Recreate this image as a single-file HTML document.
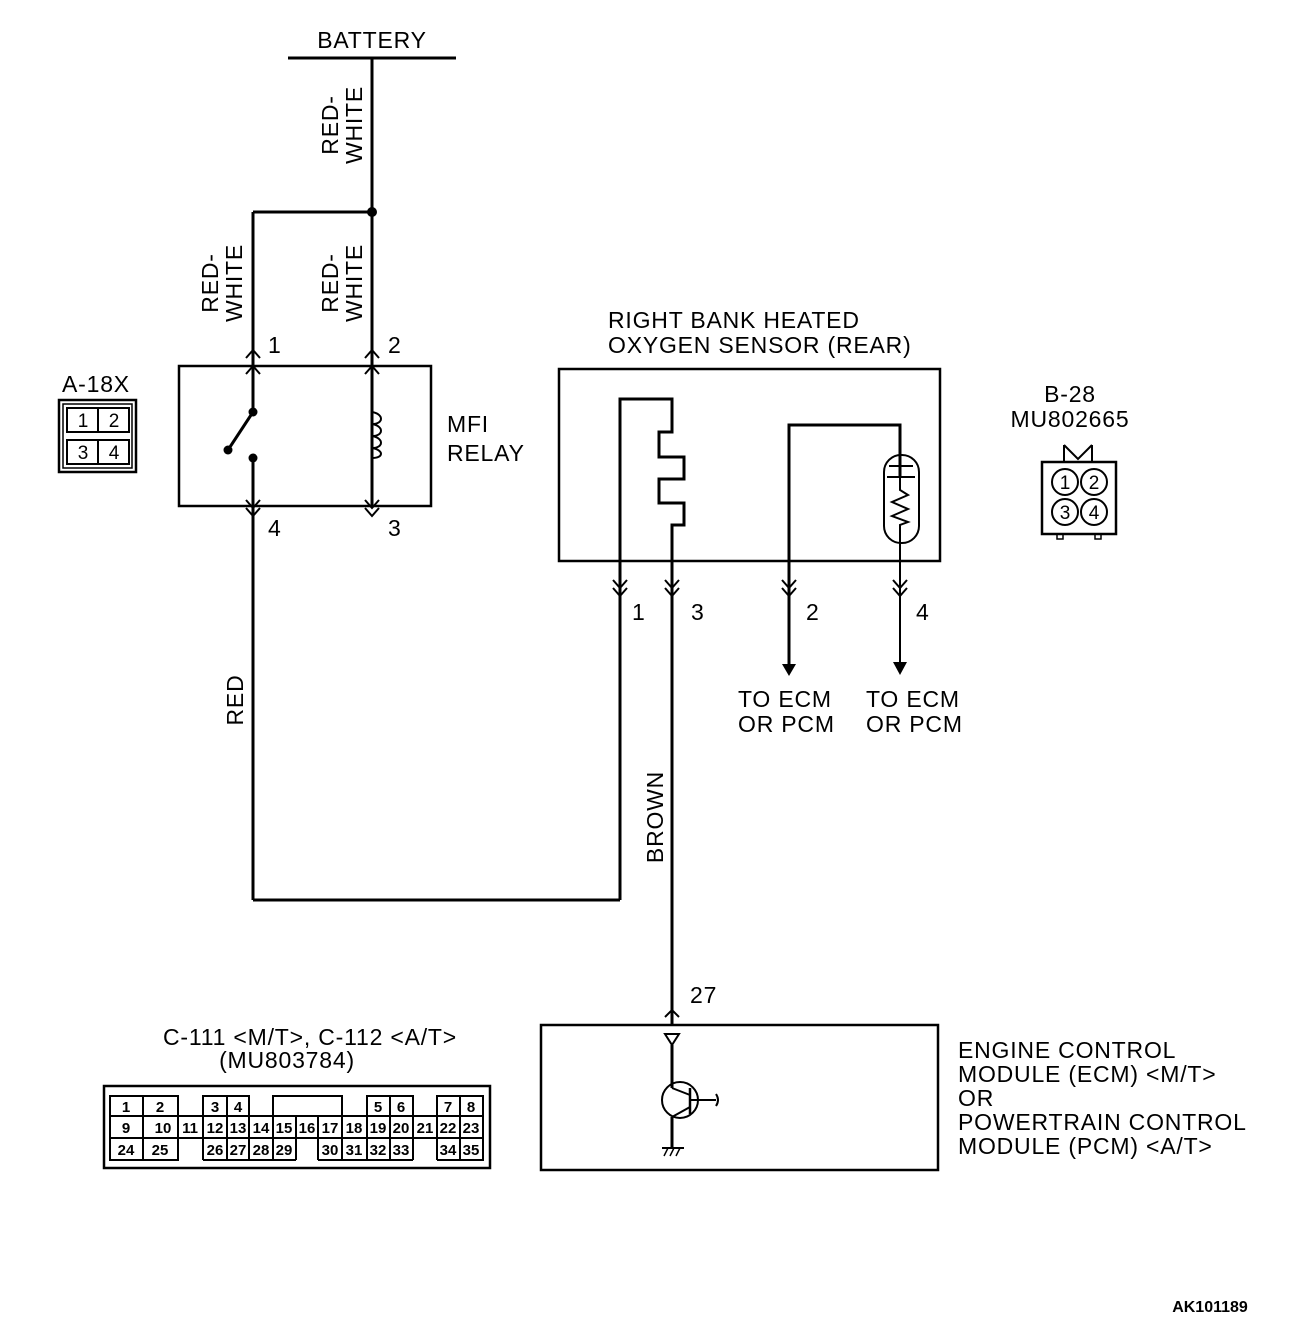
<!DOCTYPE html>
<html><head><meta charset="utf-8"><style>
html,body{margin:0;padding:0;background:#fff;}
svg{display:block;}
text{font-family:"Liberation Sans",Arial,sans-serif;fill:#000;}
</style></head><body>
<svg width="1312" height="1338" viewBox="0 0 1312 1338" xmlns="http://www.w3.org/2000/svg">
<g stroke="#000" stroke-width="3" fill="none">
<line x1="288" y1="58" x2="456" y2="58"/>
<line x1="372" y1="58" x2="372" y2="506"/>
<line x1="253" y1="212" x2="372" y2="212"/>
<line x1="253" y1="212" x2="253" y2="412"/>
<rect x="179" y="366" width="252" height="140" stroke-width="2.5"/>
<line x1="253" y1="412" x2="228" y2="450"/>
<line x1="253" y1="458" x2="253" y2="900"/>
<line x1="253" y1="900" x2="620" y2="900"/>
<path d="M372 412 C384 414 384 424 372 424 C384 426 384 436 372 436 C384 438 384 448 372 448 C384 450 384 458 372 458" stroke-width="2"/>
<polyline points="246,374 253,366 260,374" stroke-width="2"/>
<polyline points="365,374 372,366 379,374" stroke-width="2"/>
<polyline points="246,500 253,508 260,500" stroke-width="2"/>
<polyline points="246,508 253,516 260,508" stroke-width="2"/>
<polyline points="365,500 372,508 379,500" stroke-width="2"/>
<polyline points="365,508 372,516 379,508" stroke-width="2"/>
<polyline points="246,358 253,350 260,358" stroke-width="2"/>
<polyline points="365,358 372,350 379,358" stroke-width="2"/>
<rect x="559" y="369" width="381" height="192" stroke-width="2.5"/>
<path d="M620 900 L620 399 L672 399 L672 432 L659 432 L659 457 L684 457 L684 479 L659 479 L659 503 L684 503 L684 525 L672 525 L672 1025"/>
<path d="M789 664 L789 425 L900 425 L900 476"/>
<rect x="884" y="455" width="35" height="88" rx="17" stroke-width="2"/>
<line x1="889" y1="466" x2="913" y2="466" stroke-width="2"/>
<line x1="887" y1="477" x2="915" y2="477" stroke-width="2"/>
<path d="M900 477 L900 490 L908 495 L892 502 L908 509 L892 516 L908 522 L900 525 L900 664" stroke-width="2"/>
<polyline points="613,580 620,588 627,580" stroke-width="2"/>
<polyline points="613,588 620,596 627,588" stroke-width="2"/>
<polyline points="665,580 672,588 679,580" stroke-width="2"/>
<polyline points="665,588 672,596 679,588" stroke-width="2"/>
<polyline points="782,580 789,588 796,580" stroke-width="2"/>
<polyline points="782,588 789,596 796,588" stroke-width="2"/>
<polyline points="893,580 900,588 907,580" stroke-width="2"/>
<polyline points="893,588 900,596 907,588" stroke-width="2"/>
<rect x="541" y="1025" width="397" height="145" stroke-width="2.5"/>
<polyline points="665,1017 672,1010 679,1017" stroke-width="2"/>
<polygon points="665,1034 679,1034 672,1045" stroke-width="2"/>
<line x1="672" y1="1045" x2="672" y2="1088"/>
<circle cx="680" cy="1100" r="18" stroke-width="2"/>
<line x1="690" y1="1088" x2="690" y2="1114" stroke-width="2.5"/>
<line x1="672" y1="1088" x2="690" y2="1095" stroke-width="2"/>
<line x1="690" y1="1107" x2="672" y2="1117" stroke-width="2"/>
<line x1="672" y1="1117" x2="672" y2="1148"/>
<line x1="690" y1="1100" x2="716" y2="1100" stroke-width="2"/>
<path d="M716 1094 Q720 1100 716 1106" stroke-width="2"/>
<line x1="662" y1="1148" x2="684" y2="1148" stroke-width="2"/>
<line x1="664" y1="1156" x2="668" y2="1148" stroke-width="1.5"/>
<line x1="670" y1="1156" x2="674" y2="1148" stroke-width="1.5"/>
<line x1="676" y1="1156" x2="680" y2="1148" stroke-width="1.5"/>
<rect x="59" y="400" width="77" height="72" stroke-width="2.5"/>
<rect x="63" y="404" width="69" height="64" stroke-width="1.5"/>
<rect x="67" y="408" width="31" height="24" stroke-width="2"/>
<rect x="98" y="408" width="31" height="24" stroke-width="2"/>
<rect x="67" y="440" width="31" height="24" stroke-width="2"/>
<rect x="98" y="440" width="31" height="24" stroke-width="2"/>
<rect x="1042" y="462" width="74" height="72" stroke-width="2.5"/>
<polyline points="1064,445 1078,459 1092,445" stroke-width="2"/>
<line x1="1064" y1="445" x2="1064" y2="462" stroke-width="2"/>
<line x1="1092" y1="445" x2="1092" y2="462" stroke-width="2"/>
<circle cx="1065" cy="482" r="13" stroke-width="2"/>
<circle cx="1094" cy="482" r="13" stroke-width="2"/>
<circle cx="1065" cy="512" r="13" stroke-width="2"/>
<circle cx="1094" cy="512" r="13" stroke-width="2"/>
<rect x="1057" y="534" width="6" height="5" stroke-width="1.5"/>
<rect x="1095" y="534" width="6" height="5" stroke-width="1.5"/>
<rect x="104" y="1086" width="386" height="82" stroke-width="2.5"/>
<g stroke-width="2">
<rect x="110" y="1096" width="33" height="20"/><rect x="143" y="1096" width="35" height="20"/>
<rect x="203" y="1096" width="24" height="20"/><rect x="227" y="1096" width="22" height="20"/>
<rect x="273" y="1096" width="69" height="20"/>
<rect x="367" y="1096" width="23" height="20"/><rect x="390" y="1096" width="23" height="20"/>
<rect x="437" y="1096" width="23" height="20"/><rect x="460" y="1096" width="23" height="20"/>
<rect x="110" y="1116" width="373" height="22"/>
<path d="M143 1116V1160M178 1116V1138M203 1116V1160M227 1116V1160M249 1116V1160M273 1116V1160M296 1116V1160M318 1116V1160M342 1116V1160M367 1116V1160M390 1116V1160M413 1116V1160M437 1116V1160M460 1116V1160"/>
<path d="M110 1138V1160H178V1138M203 1160H296M318 1160H413M437 1160H483V1138"/>
</g>
</g>
<circle cx="372" cy="212" r="5" fill="#000"/>
<circle cx="253" cy="412" r="4.5" fill="#000"/>
<circle cx="228" cy="450" r="4.5" fill="#000"/>
<circle cx="253" cy="458" r="4.5" fill="#000"/>
<polygon points="782,664 796,664 789,676" fill="#000"/>
<polygon points="893,662 907,662 900,675" fill="#000"/>

<g font-size="23" letter-spacing="0.8">
<text x="372" y="48" text-anchor="middle">BATTERY</text>
<g transform="translate(338,125) rotate(-90)"><text text-anchor="middle" y="0">RED-</text><text text-anchor="middle" y="24">WHITE</text></g>
<g transform="translate(218,283) rotate(-90)"><text text-anchor="middle" y="0">RED-</text><text text-anchor="middle" y="24">WHITE</text></g>
<g transform="translate(338,283) rotate(-90)"><text text-anchor="middle" y="0">RED-</text><text text-anchor="middle" y="24">WHITE</text></g>
<text x="268" y="353">1</text><text x="388" y="353">2</text>
<text x="268" y="536">4</text><text x="388" y="536">3</text>
<text x="447" y="432">MFI</text><text x="447" y="461">RELAY</text>
<text x="62" y="392">A-18X</text>
<text x="608" y="328">RIGHT BANK HEATED</text>
<text x="608" y="353">OXYGEN SENSOR (REAR)</text>
<text x="1070" y="402" text-anchor="middle">B-28</text>
<text x="1070" y="427" text-anchor="middle">MU802665</text>
<text x="632" y="620">1</text><text x="691" y="620">3</text><text x="806" y="620">2</text><text x="916" y="620">4</text>
<text x="738" y="707">TO ECM</text><text x="738" y="732">OR PCM</text>
<text x="866" y="707">TO ECM</text><text x="866" y="732">OR PCM</text>
<g transform="translate(243,700) rotate(-90)"><text text-anchor="middle">RED</text></g>
<g transform="translate(663,817) rotate(-90)"><text text-anchor="middle">BROWN</text></g>
<text x="690" y="1003">27</text>
<text x="958" y="1058">ENGINE CONTROL</text>
<text x="958" y="1082">MODULE (ECM) &lt;M/T&gt;</text>
<text x="958" y="1106">OR</text>
<text x="958" y="1130">POWERTRAIN CONTROL</text>
<text x="958" y="1154">MODULE (PCM) &lt;A/T&gt;</text>
<text x="310" y="1045" text-anchor="middle">C-111 &lt;M/T&gt;, C-112 &lt;A/T&gt;</text>
<text x="287" y="1068" text-anchor="middle">(MU803784)</text>
</g>
<g font-size="19" text-anchor="middle">
<text x="83" y="427">1</text><text x="114" y="427">2</text>
<text x="83" y="459">3</text><text x="114" y="459">4</text>
<text x="1065" y="489">1</text><text x="1094" y="489">2</text>
<text x="1065" y="519">3</text><text x="1094" y="519">4</text>
</g>
<g font-size="15" text-anchor="middle" font-weight="bold">
<text x="126" y="1112">1</text><text x="160" y="1112">2</text><text x="215" y="1112">3</text><text x="238" y="1112">4</text>
<text x="378" y="1112">5</text><text x="401" y="1112">6</text><text x="448" y="1112">7</text><text x="471" y="1112">8</text>
<text x="126" y="1133">9</text><text x="163" y="1133">10</text><text x="190" y="1133">11</text><text x="215" y="1133">12</text><text x="238" y="1133">13</text><text x="261" y="1133">14</text><text x="284" y="1133">15</text><text x="307" y="1133">16</text><text x="330" y="1133">17</text><text x="354" y="1133">18</text><text x="378" y="1133">19</text><text x="401" y="1133">20</text><text x="425" y="1133">21</text><text x="448" y="1133">22</text><text x="471" y="1133">23</text>
<text x="126" y="1155">24</text><text x="160" y="1155">25</text><text x="215" y="1155">26</text><text x="238" y="1155">27</text><text x="261" y="1155">28</text><text x="284" y="1155">29</text><text x="330" y="1155">30</text><text x="354" y="1155">31</text><text x="378" y="1155">32</text><text x="401" y="1155">33</text><text x="448" y="1155">34</text><text x="471" y="1155">35</text>
<text x="1210" y="1312" font-size="16">AK101189</text>
</g>
</svg>
</body></html>
